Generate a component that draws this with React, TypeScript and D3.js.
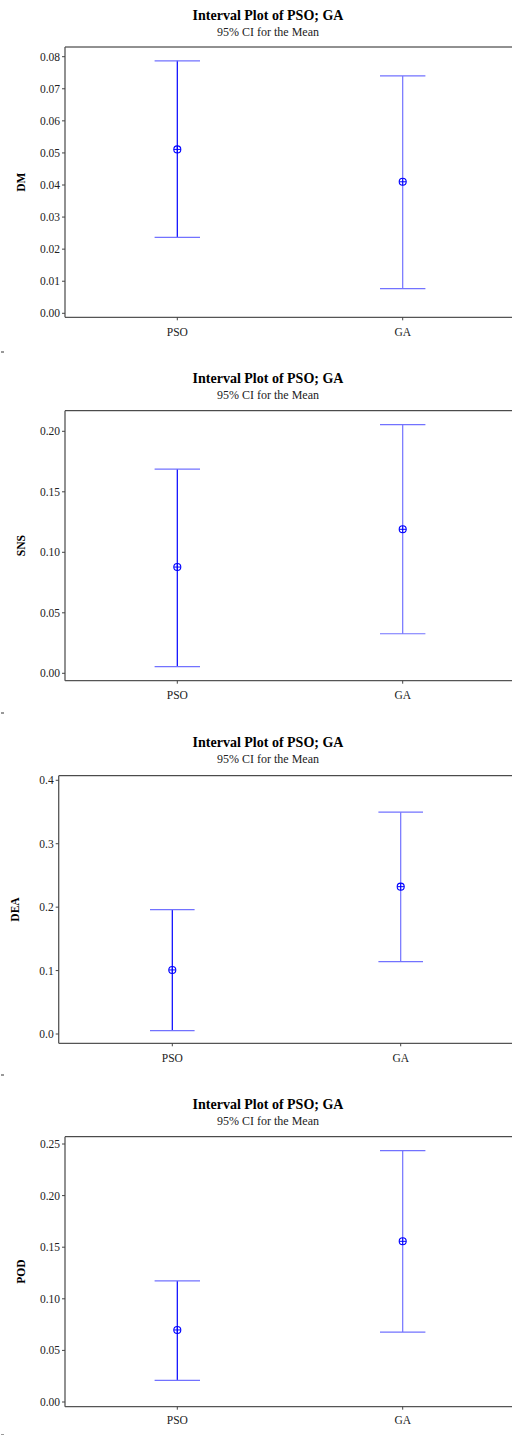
import React from "react";
import * as d3 from "d3";

const categories = ["PSO", "GA"];
const metrics = ["DM", "SNS", "DEA", "POD"];
const titleText = "Interval Plot of PSO; GA";
const subtitleText = "95% CI for the Mean";

// [lower, mean, upper] per category
const dmCI = [[0.0237, 0.0511, 0.0787], [0.0077, 0.0410, 0.0740]];
const snsCI = [[0.0055, 0.0878, 0.1688], [0.0327, 0.1190, 0.2055]];
const deaCI = [[0.0052, 0.1010, 0.1960], [0.1140, 0.2323, 0.3497]];
const podCI = [[0.0210, 0.0698, 0.1173], [0.0678, 0.1557, 0.2435]];

const dmTicks = [0, 0.01, 0.02, 0.03, 0.04, 0.05, 0.06, 0.07, 0.08];
const snsTicks = [0, 0.05, 0.1, 0.15, 0.2];
const deaTicks = [0, 0.1, 0.2, 0.3, 0.4];
const podTicks = [0, 0.05, 0.1, 0.15, 0.2, 0.25];

const seriesData = [dmCI, snsCI, deaCI, podCI];
const tickSets = [dmTicks, snsTicks, deaTicks, podTicks];
const tickFormats = [".2f", ".2f", ".1f", ".2f"];

// layout per panel (pixels)
const layouts = [
  { titleY: 19.5, subY: 36, top: 47, bottom: 317.3, left: 65, zeroY: 313.3, maxY: 56.7, xs: [177.3, 402.7], cap: 22.7, labelY: 335.5, dotY: 351 },
  { titleY: 383, subY: 399, top: 410.7, bottom: 680.7, left: 65, zeroY: 673.3, maxY: 431.3, xs: [177.3, 402.7], cap: 22.7, labelY: 699, dotY: 712 },
  { titleY: 746.5, subY: 762.5, top: 775.7, bottom: 1043.3, left: 58.7, zeroY: 1034, maxY: 780.3, xs: [172.3, 400.7], cap: 22.3, labelY: 1062, dotY: 1074 },
  { titleY: 1109, subY: 1125, top: 1136.7, bottom: 1406.7, left: 65, zeroY: 1402, maxY: 1144, xs: [177.3, 402.7], cap: 22.7, labelY: 1424, dotY: 1434 },
];

const FONT = "'Liberation Serif', 'DejaVu Serif', serif";
const lineColors = ["#0000ff", "#7272ff"];
const capColor = "#7272ff";

function Panel({ idx }: { idx: number }) {
  const L = layouts[idx];
  const ticks = tickSets[idx];
  const data = seriesData[idx];
  const y = d3.scaleLinear().domain([0, ticks[ticks.length - 1]]).range([L.zeroY, L.maxY]);
  const x = d3.scalePoint<string>().domain(categories).range(L.xs as [number, number]);
  const fmt = d3.format(tickFormats[idx]);
  const cx = 268;
  return (
    <g>
      <text x={cx} y={L.titleY} textAnchor="middle" fontFamily={FONT} fontWeight="bold" fontSize={14} fill="#000">{titleText}</text>
      <text x={cx} y={L.subY} textAnchor="middle" fontFamily={FONT} fontSize={12} fill="#222">{subtitleText}</text>
      {/* frame */}
      <line x1={L.left} x2={520} y1={L.top} y2={L.top} stroke="#222" strokeWidth={1} />
      <line x1={L.left} x2={L.left} y1={L.top} y2={L.bottom} stroke="#555" strokeWidth={1.3} />
      <line x1={L.left} x2={520} y1={L.bottom} y2={L.bottom} stroke="#555" strokeWidth={1.3} />
      {/* y ticks */}
      {ticks.map((t, i) => (
        <g key={i}>
          <line x1={L.left - 3} x2={L.left} y1={y(t)} y2={y(t)} stroke="#444" strokeWidth={1} />
          <text x={L.left - 5} y={y(t)} dy="0.35em" textAnchor="end" fontFamily={FONT} fontSize={11.5} fill="#222">{fmt(t)}</text>
        </g>
      ))}
      {/* x ticks */}
      {categories.map((c) => (
        <g key={c}>
          <line x1={x(c)} x2={x(c)} y1={L.bottom} y2={L.bottom + 3} stroke="#444" strokeWidth={1} />
          <text x={x(c)} y={L.labelY} textAnchor="middle" fontFamily={FONT} fontSize={11.5} fill="#222">{c}</text>
        </g>
      ))}
      {/* y label */}
      <text transform={`translate(${L.left - 40},${(L.top + L.bottom) / 2}) rotate(-90)`} textAnchor="middle" fontFamily={FONT} fontWeight="bold" fontSize={11.5} fill="#000">{metrics[idx]}</text>
      {/* intervals */}
      {categories.map((c, i) => {
        const [lo, mean, hi] = data[i];
        const px = x(c) as number;
        return (
          <g key={c}>
            <line x1={px} x2={px} y1={y(hi)} y2={y(lo)} stroke={lineColors[i]} strokeWidth={1.2} />
            <line x1={px - L.cap} x2={px + L.cap} y1={y(hi)} y2={y(hi)} stroke={capColor} strokeWidth={1.2} />
            <line x1={px - L.cap} x2={px + L.cap} y1={y(lo)} y2={y(lo)} stroke={capColor} strokeWidth={1.2} />
            <circle cx={px} cy={y(mean)} r={3.5} fill="none" stroke="#0000ff" strokeWidth={1.1} />
            <line x1={px - 3.5} x2={px + 3.5} y1={y(mean)} y2={y(mean)} stroke="#0000ff" strokeWidth={1} />
            <line x1={px} x2={px} y1={y(mean) - 3.5} y2={y(mean) + 3.5} stroke="#0000ff" strokeWidth={1} />
          </g>
        );
      })}
      <rect x={1} y={L.dotY} width={3} height={2} fill="#999" />
    </g>
  );
}

export default function App() {
  return (
    <svg width={512} height={1435} style={{ position: "absolute", left: 0, top: 0, background: "#fff" }}>
      <rect x={0} y={0} width={512} height={1435} fill="#fff" />
      {layouts.map((_, i) => (
        <Panel key={i} idx={i} />
      ))}
    </svg>
  );
}
